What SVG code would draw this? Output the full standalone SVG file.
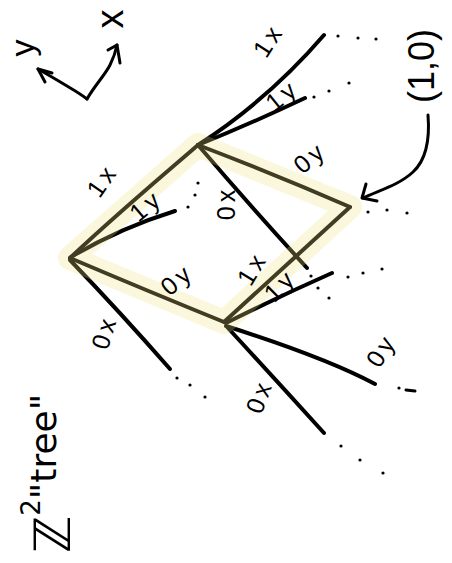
<svg xmlns="http://www.w3.org/2000/svg" width="452" height="563" viewBox="0 0 452 563">
<style>
.ln{fill:none;stroke:#000;stroke-width:4;stroke-linecap:round;stroke-linejoin:round}
.th{fill:none;stroke:#000;stroke-width:3;stroke-linecap:round;stroke-linejoin:round}
.lb{font-family:"Liberation Sans",Arial,sans-serif;font-size:25px;letter-spacing:4px;fill:#000;text-anchor:middle;dominant-baseline:central}
.dot{fill:#000}
.hl{fill:none;stroke:rgb(235,225,130);stroke-opacity:0.27;stroke-width:24;stroke-linejoin:round;stroke-linecap:round}
</style>
<rect width="452" height="563" fill="#fff"/>
<g id="connectors">
  <path class="ln" d="M70,258 C110,220 150,186 198,145"/>
  <path class="ln" d="M71,257 Q120,228 175,211"/>
  <path class="ln" d="M70,258 Q150,292 224,322"/>
  <path class="ln" d="M70,260 Q120,312 170,369"/>
  <path class="ln" d="M198,145 Q268,100 324,35"/>
  <path class="ln" d="M198,145 Q250,124 305,98"/>
  <path class="ln" d="M198,145 Q274,174 350,207"/>
  <path class="ln" d="M198,145 Q252,208 307,268"/>
  <path class="ln" d="M350,207 Q290,262 224,322"/>
  <path class="ln" d="M226,323 Q280,296 332,273"/>
  <path class="ln" d="M226,326 C270,340 330,360 375,384"/>
  <path class="ln" d="M228,328 Q276,380 324,433"/>
  <path class="th" d="M428,115 C430,140 426,160 413,172 C399,185 380,190 363,198"/>
  <path class="th" d="M366,184 L362,198 L377,201"/>
  <path class="th" d="M87,99 C95,85 105,75 110,65 C114,57 116,50 117,45"/>
  <path class="th" d="M108,50 L117,45 L120,63"/>
  <path class="th" d="M87,99 C78,92 70,88 62,83 C52,77 45,73 38,69"/>
  <path class="th" d="M52,73 L38,69 L45,82"/>
</g>
<g id="dots">
  <circle class="dot" cx="338" cy="36" r="1.6"/><circle class="dot" cx="358" cy="38" r="1.6"/><circle class="dot" cx="376" cy="39" r="1.6"/>
  <circle class="dot" cx="314" cy="97" r="1.6"/><circle class="dot" cx="329" cy="91" r="1.6"/><circle class="dot" cx="349" cy="83" r="1.6"/>
  <circle class="dot" cx="188" cy="207" r="1.6"/><circle class="dot" cx="195" cy="195" r="1.6"/><circle class="dot" cx="198" cy="183" r="1.6"/>
  <circle class="dot" cx="368" cy="212" r="1.6"/><circle class="dot" cx="387" cy="210" r="1.6"/><circle class="dot" cx="407" cy="213" r="1.6"/>
  <circle class="dot" cx="311" cy="276" r="1.6"/><circle class="dot" cx="318" cy="288" r="1.6"/><circle class="dot" cx="329" cy="298" r="1.6"/>
  <circle class="dot" cx="348" cy="277" r="1.6"/><circle class="dot" cx="363" cy="273" r="1.6"/><circle class="dot" cx="382" cy="269" r="1.6"/>
  <circle class="dot" cx="177" cy="378" r="1.6"/><circle class="dot" cx="190" cy="385" r="1.6"/><circle class="dot" cx="205" cy="397" r="1.6"/>
  <circle class="dot" cx="399" cy="388" r="1.6"/><path class="th" d="M406,390 L415,391"/>
  <circle class="dot" cx="341" cy="446" r="1.6"/><circle class="dot" cx="360" cy="460" r="1.6"/><circle class="dot" cx="383" cy="473" r="1.6"/>
</g>
<path id="highlight" class="hl" d="M70,258 L198,145 L350,207 L224,322 Z"/>
<g id="labels">
  <text class="lb" transform="translate(102,180) rotate(-55)">1x</text>
  <text class="lb" transform="translate(146,205) rotate(-40)">1y</text>
  <text class="lb" transform="translate(226,203) rotate(-90)">0x</text>
  <text class="lb" transform="translate(310,157) rotate(-40)">0y</text>
  <text class="lb" transform="translate(177,279) rotate(-40)">0y</text>
  <text class="lb" transform="translate(104,332) rotate(-73)">0x</text>
  <text class="lb" transform="translate(252,268) rotate(-59)">1x</text>
  <text class="lb" transform="translate(280,285) rotate(-45)">1y</text>
  <text class="lb" transform="translate(381,350) rotate(-58)">0y</text>
  <text class="lb" transform="translate(259,396) rotate(-70)">0x</text>
  <text class="lb" transform="translate(268,40) rotate(-57)">1x</text>
  <text class="lb" transform="translate(282,95) rotate(-39)">1y</text>
</g>
<g id="node-10">
  <text transform="translate(421,66) rotate(-90)" font-family="Liberation Sans,Arial,sans-serif" font-size="36" text-anchor="middle" dominant-baseline="central">(1,0)</text>
</g>
<g id="axes-labels">
  <text transform="translate(110,19) rotate(-90)" font-family="Liberation Sans,Arial,sans-serif" font-size="38" text-anchor="middle" dominant-baseline="central">x</text>
  <text transform="translate(22,48) rotate(-90)" font-family="Liberation Sans,Arial,sans-serif" font-size="34" text-anchor="middle" dominant-baseline="central">y</text>
</g>
<g id="title">
  <text transform="translate(70,553) rotate(-90)" font-family="DejaVu Sans,sans-serif" font-size="36"><tspan font-size="50">ℤ</tspan><tspan font-size="26" dy="-30">2</tspan><tspan dy="16">"tree"</tspan></text>
</g>
</svg>
